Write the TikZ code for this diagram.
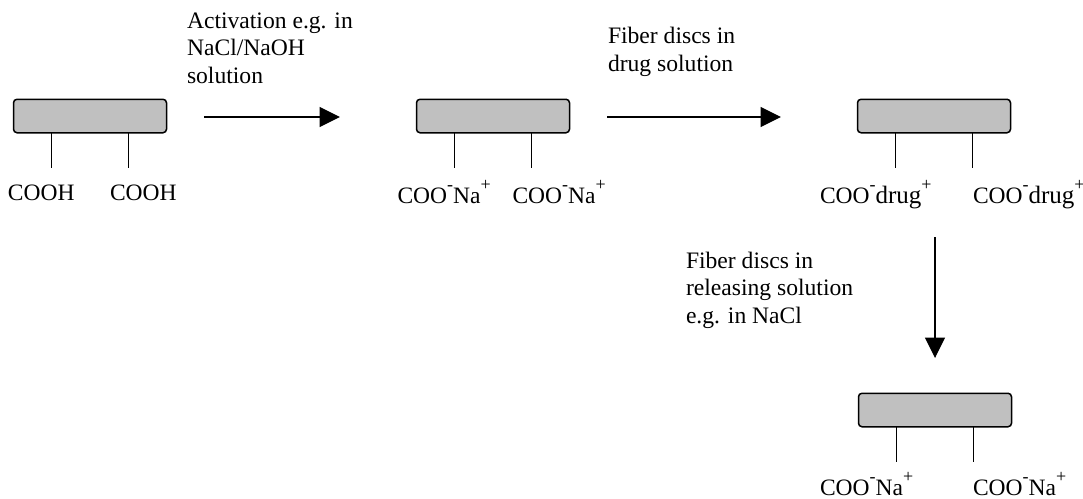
\documentclass[tikz,border=0pt]{standalone}
\usepackage{fontspec}
\setmainfont{Liberation Serif}
\usetikzlibrary{arrows.meta,positioning}
\definecolor{fibergray}{RGB}{192,192,192}
\tikzset{
  x=1pt,y=-1pt,
  fiber/.style={draw=black,line width=1.5pt,fill=fibergray,rounded corners=3.5pt,minimum width=153pt,minimum height=33.5pt,inner sep=0pt},
  stem/.style={draw=black,line width=1.4pt},
  flow/.style={draw=black,line width=1.3pt,-{Triangle[length=20.5pt,width=20pt]}},
  lab/.style={font=\fontsize{23.5}{27.5}\selectfont,anchor=base west,inner sep=0pt,outer sep=0pt},
  note/.style={font=\fontsize{23.6}{27.5}\selectfont,anchor=base west,inner sep=0pt,outer sep=0pt,align=left}
}
\newcommand{\fibre}[3]{%
  \node[fiber] (#1) at (#2,#3) {};
  \coordinate (#1a) at (#2-38.5,#3+17);
  \coordinate (#1b) at (#2+38.5,#3+17);
  \coordinate (#1c) at (#2-38.5,#3+52);
  \coordinate (#1d) at (#2+38.5,#3+52);
  \draw[stem] (#1a) -- (#1c);
  \draw[stem] (#1b) -- (#1d);
}
\newcommand{\sups}[1]{\raisebox{12.5pt}{\fontsize{18}{18}\selectfont #1}}
\newcommand{\cooNa}{COO\sups{-}Na\sups{+}}
\newcommand{\cooDrug}{COO\sups{-}{\fontsize{25}{27.5}\selectfont drug}\sups{+}}
\begin{document}
\begin{tikzpicture}
\useasboundingbox (0,0) rectangle (1083,498);
\fibre{A}{90}{116}
\fibre{B}{493}{116}
\fibre{C}{934}{116}
\fibre{D}{935}{410}
\node[lab] (a1) at (8,200) {COOH};
\node[lab] (a2) at (110,200) {COOH};
\node[lab] (b1) at (397.5,203) {\cooNa};
\node[lab] (b2) at (512.5,203) {\cooNa};
\node[lab] (c1) at (820,203) {\cooDrug};
\node[lab] (c2) at (973,203) {\cooDrug};
\node[lab] (d1) at (820,495) {\cooNa};
\node[lab] (d2) at (973,495) {\cooNa};
\coordinate (s1) at (204,117);
\coordinate (e1) at (340,117);
\coordinate (s2) at (607,117);
\coordinate (e2) at (781,117);
\coordinate (s3) at (935,237);
\coordinate (e3) at (935,358);
\draw[flow] (s1) -- (e1);
\draw[flow] (s2) -- (e2);
\draw[flow] (s3) -- (e3);
\node[note] (n1) at (187,83) {Activation e.g. in\\NaCl/NaOH\\solution};
\node[note] (n2) at (608,71) {Fiber discs in\\drug solution};
\node[note] (n3) at (686,323) {Fiber discs in\\releasing solution\\e.g. in NaCl};
\end{tikzpicture}
\end{document}
